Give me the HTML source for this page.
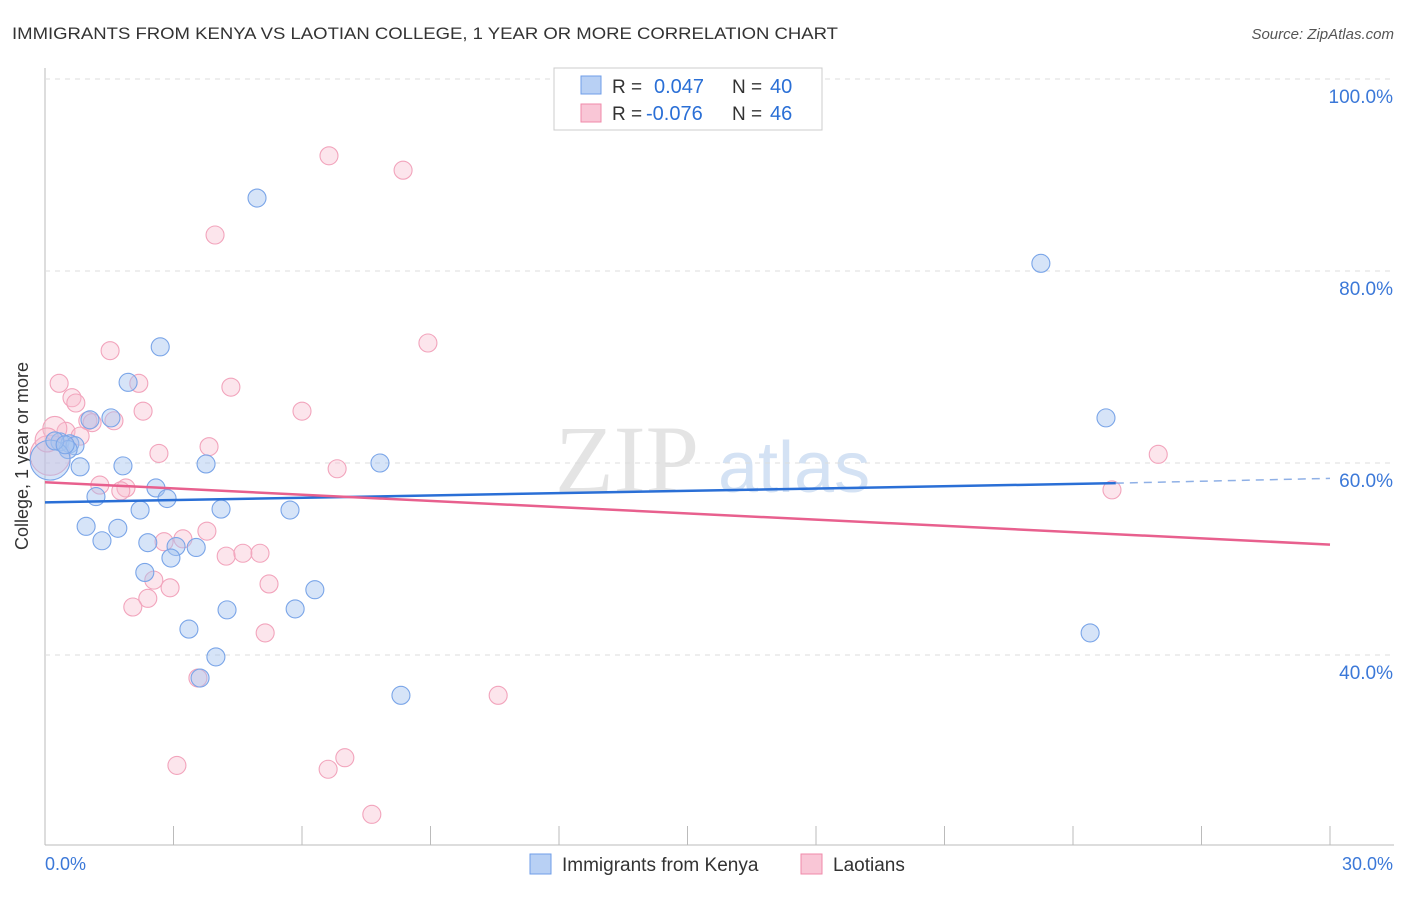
<!DOCTYPE html>
<html><head><meta charset="utf-8"><style>
body{margin:0;background:#fff;font-family:"Liberation Sans",sans-serif}
</style></head><body>
<svg id="c" width="1406" height="892" xmlns="http://www.w3.org/2000/svg">
<text x="12" y="39" font-size="17" fill="#333" textLength="826" lengthAdjust="spacingAndGlyphs">IMMIGRANTS FROM KENYA VS LAOTIAN COLLEGE, 1 YEAR OR MORE CORRELATION CHART</text>
<text x="1394" y="39" font-size="15" fill="#555" font-style="italic" text-anchor="end">Source: ZipAtlas.com</text>
<text x="555" y="492" font-size="96" fill="#e4e4e4" font-family="Liberation Serif">ZIP</text>
<text x="718" y="492" font-size="72" fill="#d4e2f4">atlas</text>
<text transform="translate(28,456) rotate(-90)" font-size="18" fill="#333" text-anchor="middle">College, 1 year or more</text>
<g id="grid"></g><g id="pts"></g><g id="lines"></g>
<g>
<rect x="554" y="68" width="268" height="62" fill="#fff" stroke="#ccc"/>
<rect x="581" y="76" width="20" height="18" fill="#b8d0f4" stroke="#6f9ee8"/>
<rect x="581" y="104" width="20" height="18" fill="#f9c6d6" stroke="#f08aaa"/>
<text x="612" y="93" font-size="19" fill="#333">R =</text><text x="654" y="93" font-size="20" fill="#2a6fd6">0.047</text>
<text x="732" y="93" font-size="19" fill="#333">N =</text><text x="770" y="93" font-size="20" fill="#2a6fd6">40</text>
<text x="612" y="120" font-size="19" fill="#333">R =</text><text x="646" y="120" font-size="20" fill="#2a6fd6">-0.076</text>
<text x="732" y="120" font-size="19" fill="#333">N =</text><text x="770" y="120" font-size="20" fill="#2a6fd6">46</text>
</g>
<g>
<rect x="530" y="854" width="21" height="20" fill="#b8d0f4" stroke="#6f9ee8"/>
<text x="562" y="871" font-size="19" fill="#333">Immigrants from Kenya</text>
<rect x="801" y="854" width="21" height="20" fill="#f9c6d6" stroke="#f08aaa"/>
<text x="833" y="871" font-size="19" fill="#333">Laotians</text>
</g>
</svg>
<script>
const xTicks=[0,3,6,9,12,15,18,21,24,27,30];
const yTicks=[40,60,80,100];
const blueX=[4.95,23.25,2.69,1.94,1.54,1.05,0.35,0.58,0.70,0.54,0.82,1.82,3.76,7.82,24.77,1.19,2.59,2.85,2.22,4.11,5.72,0.96,1.70,1.33,2.40,3.06,3.53,2.94,2.33,6.30,4.25,5.84,3.36,3.99,3.62,8.31,24.40,0.12,0.23,0.47];
const blueY=[87.6,80.8,72.1,68.4,64.7,64.5,62.2,62.0,61.8,61.4,59.6,59.7,59.9,60.0,64.7,56.5,57.4,56.3,55.1,55.2,55.1,53.4,53.2,51.9,51.7,51.3,51.2,50.1,48.6,46.8,44.7,44.8,42.7,39.8,37.6,35.8,42.3,60.3,62.3,61.9];
const blueR=[9,9,9,9,9,9,9,9,9,9,9,9,9,9,9,9,9,9,9,9,9,9,9,9,9,9,9,9,9,9,9,9,9,9,9,9,9,20,9,9];
const pinkX=[6.63,8.36,3.97,8.94,1.52,0.33,2.19,4.34,0.63,0.72,2.29,6.0,1.0,1.1,1.61,0.49,0.82,3.83,2.66,6.82,25.99,1.28,1.89,1.77,3.78,3.22,2.78,4.23,4.62,5.02,24.91,2.54,2.92,5.23,2.40,2.05,5.14,3.57,10.58,3.08,7.00,6.61,7.63,0.12,0.23,0.05];
const pinkY=[92.0,90.5,83.75,72.5,71.7,68.3,68.3,67.9,66.8,66.25,65.4,65.4,64.4,64.2,64.4,63.3,62.8,61.7,61.0,59.4,60.9,57.7,57.4,57.1,52.9,52.1,51.8,50.3,50.6,50.6,57.2,47.8,47.0,47.4,45.9,45.0,42.3,37.6,35.8,28.5,29.3,28.1,23.4,60.8,63.6,62.4];
const pinkR=[9,9,9,9,9,9,9,9,9,9,9,9,9,9,9,9,9,9,9,9,9,9,9,9,9,9,9,9,9,9,9,9,9,9,9,9,9,9,9,9,9,9,9,20,12,12];
const blueTrend=[[0,55.9],[25,57.9],[30,58.4]];
const pinkTrend=[[0,58.0],[30,51.5]];
const NS="http://www.w3.org/2000/svg";
const sx=v=>45+v*(1330-45)/30;
const sy=v=>79+(100-v)*9.6;
function mk(t,a,p){const e=document.createElementNS(NS,t);for(const k in a)e.setAttribute(k,a[k]);document.getElementById(p).appendChild(e);return e;}
mk('line',{x1:45,y1:68,x2:45,y2:845,stroke:'#bbb'},'grid');
mk('line',{x1:45,y1:845,x2:1394,y2:845,stroke:'#bbb'},'grid');
xTicks.forEach(t=>{const e=mk('line',{x1:sx(t),y1:826,x2:sx(t),y2:845,stroke:'#bbb'},'grid');

});
yTicks.forEach(t=>{const e=mk('line',{x1:45,y1:sy(t),x2:1394,y2:sy(t),stroke:'#ddd','stroke-dasharray':'5,5'},'grid');


const l=mk('text',{x:1393,y:sy(t)+24,'font-size':19,fill:'#3b78d8','text-anchor':'end'},'grid');l.textContent=t.toFixed(1)+'%';

});
let l0=mk('text',{x:45,y:870,'font-size':18,fill:'#3b78d8'},'grid');l0.textContent='0.0%';


let l1=mk('text',{x:1393,y:870,'font-size':18,fill:'#3b78d8','text-anchor':'end'},'grid');l1.textContent='30.0%';


pinkX.forEach((x,i)=>{const c=mk('circle',{cx:sx(x),cy:sy(pinkY[i]),r:pinkR[i],fill:'rgba(248,190,208,0.4)',stroke:'#f2a4bc','stroke-width':1.1},'pts');

});
blueX.forEach((x,i)=>{const c=mk('circle',{cx:sx(x),cy:sy(blueY[i]),r:blueR[i],fill:'rgba(164,196,240,0.45)',stroke:'#7aa5e8','stroke-width':1.1},'pts');

});
let b1=mk('line',{x1:sx(blueTrend[0][0]),y1:sy(blueTrend[0][1]),x2:sx(blueTrend[1][0]),y2:sy(blueTrend[1][1]),stroke:'#2a6fd6','stroke-width':2.5},'lines');


let b2=mk('line',{x1:sx(blueTrend[1][0]),y1:sy(blueTrend[1][1]),x2:sx(blueTrend[2][0]),y2:sy(blueTrend[2][1]),stroke:'#8fb0e6','stroke-width':1.5,'stroke-dasharray':'8,6'},'lines');


let p1=mk('line',{x1:sx(pinkTrend[0][0]),y1:sy(pinkTrend[0][1]),x2:sx(pinkTrend[1][0]),y2:sy(pinkTrend[1][1]),stroke:'#e8608e','stroke-width':2.5},'lines');


</script>
</body></html>
